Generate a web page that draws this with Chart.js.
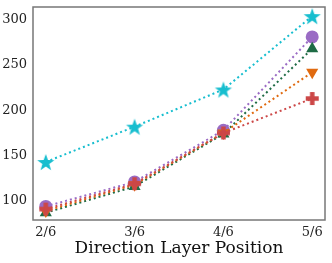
<!DOCTYPE html>
<html lang="en">
<head>
<meta charset="UTF-8">
<title>Direction Layer Position</title>
<script src="https://cdn.jsdelivr.net/npm/chart.js@4.4.1/dist/chart.umd.min.js"></script>
<style>
  html, body { margin: 0; padding: 0; background: #fff; }
  #wrap { width: 332px; height: 263px; }
</style>
</head>
<body>
<div id="wrap"><canvas id="chart"></canvas></div>
<script>
const positions = ['2/6', '3/6', '4/6', '5/6'];
const starSeries = [143, 182, 223, 304];
const circleSeries = [94, 121, 178, 281];
const triangleSeries = [87, 116, 174, 268];
const downTriangleSeries = [89, 118, 175, 242];
const plusSeries = [91, 119, 175, 213];
const yTicks = [100, 150, 200, 250, 300];

const FONT = "'DejaVu Serif', serif";

function makeStar(color, r) {
  const c = document.createElement('canvas');
  const s = Math.ceil(r * 2 + 2);
  c.width = s; c.height = s;
  const g = c.getContext('2d');
  g.translate(s / 2, s / 2 + 1);
  g.beginPath();
  for (let i = 0; i < 10; i++) {
    const rad = i % 2 === 0 ? r : r * 0.4;
    const a = -Math.PI / 2 + i * Math.PI / 5;
    g.lineTo(rad * Math.cos(a), rad * Math.sin(a));
  }
  g.closePath();
  g.fillStyle = color;
  g.fill();
  return c;
}

function makePlus(color, r, w) {
  const c = document.createElement('canvas');
  const s = Math.ceil(r * 2 + 2);
  c.width = s; c.height = s;
  const g = c.getContext('2d');
  g.fillStyle = color;
  const m = s / 2;
  g.fillRect(m - r, m - w / 2, 2 * r, w);
  g.fillRect(m - w / 2, m - r, w, 2 * r);
  return c;
}

function toPoints(vals) {
  return vals.map((v, i) => ({ x: i, y: v }));
}

function series(label, vals, color, style, extra) {
  return Object.assign({
    label: label,
    data: toPoints(vals),
    borderColor: color,
    backgroundColor: color,
    borderWidth: 2,
    borderDash: [2, 3],
    pointStyle: style,
    pointBorderWidth: 0,
    fill: false,
    tension: 0
  }, extra || {});
}

const frame = {
  id: 'frame',
  afterDraw(chart) {
    const a = chart.chartArea;
    const g = chart.ctx;
    g.save();
    g.strokeStyle = '#777';
    g.lineWidth = 1.5;
    g.strokeRect(a.left, a.top, a.right - a.left, a.bottom - a.top);
    g.restore();
  }
};

new Chart(document.getElementById('chart'), {
  type: 'line',
  data: {
    datasets: [
      series('star', starSeries, '#17becf', makeStar('#17becf', 9)),
      series('plus', plusSeries, '#cc4747', makePlus('#cc4747', 6.5, 4.5)),
      series('down', downTriangleSeries, '#e06a10', 'triangle', { pointRadius: 7, pointRotation: 180 }),
      series('triangle', triangleSeries, '#1e6b45', 'triangle', { pointRadius: 7 }),
      series('circle', circleSeries, '#9a6bc4', 'circle', { pointRadius: 6.5 })
    ]
  },
  options: {
    responsive: true,
    maintainAspectRatio: false,
    animation: false,
    layout: { padding: { left: 0, right: 3, top: 5, bottom: 0 } },
    plugins: { legend: { display: false }, tooltip: { enabled: false } },
    scales: {
      x: {
        type: 'linear',
        min: -0.144,
        max: 3.144,
        afterBuildTicks: (scale) => { scale.ticks = positions.map((p, i) => ({ value: i })); },
        afterFit: (scale) => {
          scale.height = 43;
          scale.paddingLeft = 0;
          scale.paddingRight = 0;
        },
        ticks: {
          callback: (v) => positions[v],
          color: '#222',
          font: { family: FONT, size: 13 },
          padding: 1
        },
        grid: { display: false, drawTicks: true, tickLength: 4, tickColor: '#555' },
        border: { display: false },
        title: {
          display: true,
          text: 'Direction Layer Position',
          color: '#111',
          font: { family: FONT, size: 17 },
          padding: { top: 0, bottom: 4 }
        }
      },
      y: {
        min: 79,
        max: 314,
        afterBuildTicks: (scale) => { scale.ticks = yTicks.map(v => ({ value: v })); },
        afterFit: (scale) => {
          scale.width = 33;
          scale.paddingTop = 0;
          scale.paddingBottom = 0;
        },
        ticks: {
          color: '#222',
          font: { family: FONT, size: 13 },
          padding: 2
        },
        grid: { display: false, drawTicks: true, tickLength: 4, tickColor: '#555' },
        border: { display: false }
      }
    }
  },
  plugins: [frame]
});
</script>
</body>
</html>
